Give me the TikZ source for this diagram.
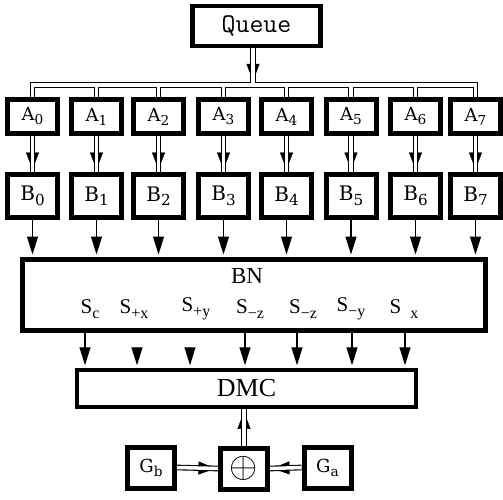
\documentclass[tikz,border=0pt]{standalone}
\usepackage{graphicx}
\usepackage{fontspec}
\newfontfamily\slabfont{DejaVu Serif}
\newfontfamily\timesfont{Liberation Serif}
\newcommand\lowsub[1]{\raisebox{-0.22em}{\scalebox{0.76}{#1}}}
\usetikzlibrary{arrows.meta}
\pgfdeclarelayer{background}
\pgfsetlayers{background,main}
\begin{document}
\begin{tikzpicture}[x=1pt,y=-1pt,
  box/.style={draw, line width=5pt, inner sep=0pt},
  abox/.style={box, minimum width=50pt, minimum height=34pt, font=\slabfont\fontsize{18}{18}\selectfont},
  bbox/.style={box, minimum width=50pt, minimum height=43pt, font=\slabfont\fontsize{20}{20}\selectfont},
  gbox/.style={box, minimum width=47pt, minimum height=41pt, font=\slabfont\fontsize{18}{18}\selectfont},
  dbl/.style={draw, double, double distance=3.5pt, line width=1.1pt},
  dblhead/.style={-{Triangle[length=17pt,width=13pt]}, line width=0.4pt, shorten >=2.5pt},
  sarrow/.style={-{Triangle[length=18pt,width=11pt]}, line width=1.2pt, shorten >=2.5pt},
  lbl/.style={inner sep=0pt, font=\timesfont\fontsize{21}{21}\selectfont}
]
\useasboundingbox (0,0) rectangle (503,500);

% queue
\node[box, line width=4.5pt, minimum width=128pt, minimum height=40pt,
      font=\ttfamily\fontsize{27}{27}\selectfont] (q) at (256.5,26) {Queue};

% stage A and stage B
\foreach \i/\x in {0/32.5,1/96.5,2/158.5,3/223.5,4/286.5,5/351,6/415.5,7/475.5}{
  \node[abox] (a\i) at (\x,116.5) {A\lowsub{\i}};
  \node[bbox] (b\i) at (\x,196) {B\lowsub{\i}};
}

% BN block and its outputs
\node[box, line width=5pt, minimum width=463pt, minimum height=71pt] (bn) at (254,295) {};
\node[lbl, font=\timesfont\fontsize{23}{23}\selectfont] (bnl) at (247,276) {BN};
\node[lbl] (s0) at (90,309)  {S\lowsub{c}};
\node[lbl] (s1) at (134,309) {S\lowsub{+x}};
\node[lbl] (s2) at (196,309) {S\lowsub{+y}};
\node[lbl] (s3) at (250,309) {S\lowsub{−z}};
\node[lbl] (s4) at (303,309) {S\lowsub{−z}};
\node[lbl] (s5) at (351,309) {S\lowsub{−y}};
\node[lbl] (s6) at (404,309) {S\lowsub{\phantom{−}x}};

% DMC block
\node[box, line width=4.5pt, minimum width=339pt, minimum height=37pt,
      font=\timesfont\fontsize{26}{26}\selectfont] (dmc) at (246.5,388.5) {DMC};

% generators and adder
\node[gbox] (gb) at (151,467.5) {G\lowsub{b}};
\node[gbox] (add) at (244,468.5) {\scalebox{2.1}{$\oplus$}};
\node[gbox] (ga) at (327.5,467.5) {G\lowsub{a}};

\coordinate (qj) at (253,85);
\coordinate (qs) at (q.south -| qj);

\begin{pgfonlayer}{background}
  % distribution bus from the queue
  \draw[dblhead, shorten >=1pt] (qs) -- ([yshift=3pt]qj);
  \draw[dbl] (qs) -- (qj)
    (a0.north) -- (a0.north |- qj) -- (a7.north |- qj) -- (a7.north)
    \foreach \i in {1,...,6}{ (a\i.north) -- (a\i.north |- qj) };

  % A -> B
  \foreach \i in {0,...,7}{
    \draw[dblhead] (a\i.south) -- (b\i.north);
    \draw[dbl] (a\i.south) -- (b\i.north);
  }

  % B -> BN
  \foreach \i in {0,...,7}{
    \draw[sarrow] (b\i.south) -- (b\i.south |- bn.north);
  }

  % BN -> DMC
  \foreach \x in {85,245,297,352,405}{
    \draw[sarrow] (\x,0 |- bn.south) -- (\x,0 |- dmc.north);
  }
  \coordinate (h1) at (137,352);
  \coordinate (h2) at (190,352);
  \draw[sarrow] (h1) -- (h1 |- dmc.north);
  \draw[sarrow] (h2) -- (h2 |- dmc.north);

  % adder connections
  \draw[dblhead] (add.north) -- (add.north |- dmc.south);
  \draw[dbl] (add.north) -- (add.north |- dmc.south);
  \draw[dblhead] (gb.east) -- (add.west);
  \draw[dbl] (gb.east) -- (add.west);
  \draw[dblhead] (ga.west) -- (add.east);
  \draw[dbl] (ga.west) -- (add.east);
\end{pgfonlayer}
\end{tikzpicture}
\end{document}
